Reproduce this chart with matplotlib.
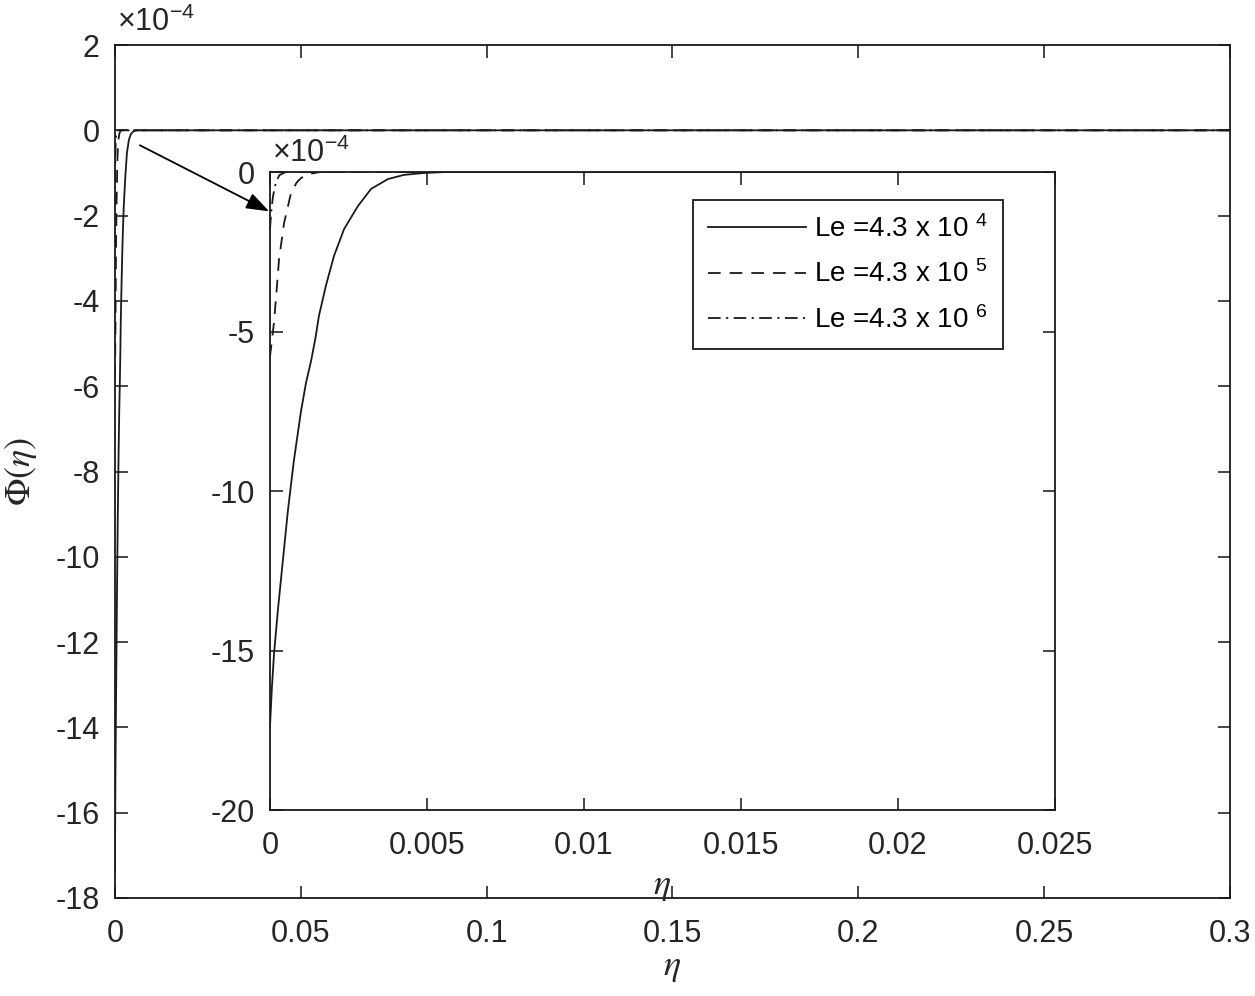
import matplotlib
matplotlib.use("Agg")
import matplotlib.pyplot as plt

plt.rcParams['font.family'] = ['Liberation Sans', 'DejaVu Sans']
plt.rcParams['mathtext.fontset'] = 'stix'

# Phi values are in units of 1e-4
eta_le4 = [0, 0.00006, 0.00013, 0.00025, 0.00041, 0.00057, 0.00076, 0.00099, 0.00115,
           0.00131, 0.00145, 0.00156, 0.00178, 0.00204, 0.00236, 0.0028, 0.00322,
           0.00376, 0.00427, 0.0049, 0.0056, 0.3]
phi_le4 = [-17.4, -16.2, -15.1, -13.76, -12.19, -10.63, -9.06, -7.49, -6.6,
           -5.92, -5.2, -4.51, -3.57, -2.63, -1.79, -1.07, -0.53,
           -0.22, -0.09, -0.03, 0, 0]

eta_le5 = [0, 0.00006, 0.00013, 0.00019, 0.00029, 0.00045, 0.00067, 0.00085, 0.00099,
           0.0012, 0.0016, 0.3]
phi_le5 = [-5.8, -5.3, -4.7, -3.98, -2.73, -1.6, -0.66, -0.33, -0.19, -0.07, 0, 0]

eta_le6 = [0, 0.00003, 0.00006, 0.0001, 0.00015, 0.0002, 0.0003, 0.0005, 0.3]
phi_le6 = [-1.8, -1.4, -1.05, -0.75, -0.5, -0.3, -0.1, 0, 0]

labels = [r'Le =4.3 x 10 $\mathregular{^{4}}$',
          r'Le =4.3 x 10 $\mathregular{^{5}}$',
          r'Le =4.3 x 10 $\mathregular{^{6}}$']
styles = ['-', (0, (7, 5)), (0, (7, 3, 1.2, 3))]

main_xticks = [0, 0.05, 0.1, 0.15, 0.2, 0.25, 0.3]
main_xticklabels = ['0', '0.05', '0.1', '0.15', '0.2', '0.25', '0.3']
main_yticks = list(range(-18, 3, 2))
inset_xticks = [0, 0.005, 0.01, 0.015, 0.02, 0.025]
inset_xticklabels = ['0', '0.005', '0.01', '0.015', '0.02', '0.025']
inset_yticks = [-20, -15, -10, -5, 0]

series = [(eta_le4, phi_le4), (eta_le5, phi_le5), (eta_le6, phi_le6)]

tick_color = '#262626'
line_color = '#1a1a1a'
fs = 22

fig = plt.figure(figsize=(12.55, 9.96), dpi=100)
ax = fig.add_axes([0.0916, 0.0984, 0.8884, 0.8564])
for (x, y), ls in zip(series, styles):
    ax.plot(x, y, color=line_color, linestyle=ls, linewidth=1.3)
ax.set_xlim(0, 0.3)
ax.set_ylim(-18, 2)
ax.set_xticks(main_xticks)
ax.set_xticklabels(main_xticklabels)
ax.set_yticks(main_yticks)
ax.set_yticklabels([str(v) for v in main_yticks])
ax.set_xlabel(r'$\eta$', fontsize=26, labelpad=0, color=tick_color)
ax.set_ylabel(r'$\Phi(\eta)$', fontsize=26, labelpad=12, color=tick_color)
ax.text(0.002, 1.008, r'×10$\mathregular{^{-4}}$', transform=ax.transAxes,
        fontsize=fs, color=tick_color, va='bottom', ha='left')

# inset
axi = fig.add_axes([0.2151, 0.1867, 0.6255, 0.6406])
for (x, y), ls, lab in zip(series, styles, labels):
    axi.plot(x, y, color=line_color, linestyle=ls, linewidth=1.3, label=lab)
axi.set_xlim(0, 0.025)
axi.set_ylim(-20, 0)
axi.set_xticks(inset_xticks)
axi.set_xticklabels(inset_xticklabels)
axi.set_yticks(inset_yticks)
axi.set_yticklabels([str(v) for v in inset_yticks])
axi.set_xlabel(r'$\eta$', fontsize=26, labelpad=5, color=tick_color)
axi.text(0.002, 1.004, r'×10$\mathregular{^{-4}}$', transform=axi.transAxes,
         fontsize=fs, color=tick_color, va='bottom', ha='left')
leg = axi.legend(loc='upper right', bbox_to_anchor=(0.934, 0.956), fontsize=20,
                 frameon=True, fancybox=False, edgecolor=line_color, framealpha=1,
                 handlelength=3.5, handletextpad=0.3, borderpad=0.55,
                 labelspacing=0.63, borderaxespad=0)
leg.get_frame().set_linewidth(1.3)

for a in (ax, axi):
    a.tick_params(direction='in', length=9, width=1.2, top=True, right=True,
                  labelsize=fs, colors=tick_color)
    a.tick_params(axis='x', pad=15)
    a.tick_params(axis='y', pad=11)
    for s in a.spines.values():
        s.set_linewidth(1.3)
        s.set_color(line_color)

# arrow pointing from main curve to inset
ax.annotate('', xy=(0.0415, -1.9), xytext=(0.0067, -0.35),
            arrowprops=dict(arrowstyle='-|>,head_length=1.4,head_width=0.5',
                            color='black', lw=1.3, shrinkA=0, shrinkB=0))

fig.savefig('out.png', dpi=100)
